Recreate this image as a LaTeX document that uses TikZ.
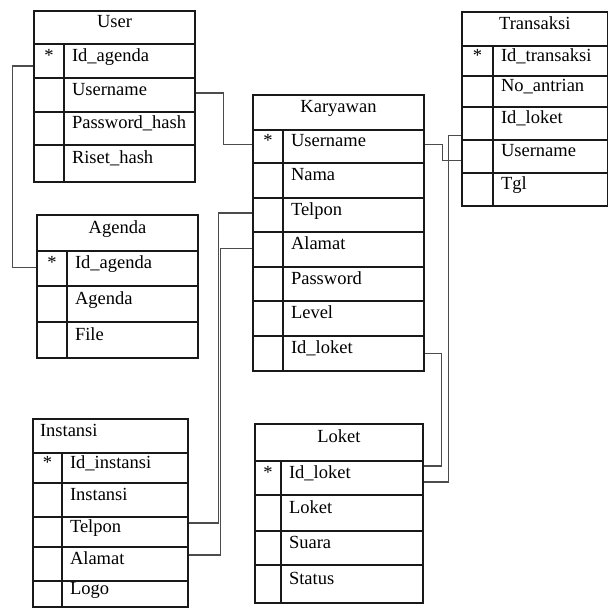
\documentclass[tikz,border=0pt]{standalone}
\usepackage{fontspec}
\setmainfont{Liberation Serif}
\begin{document}
\begin{tikzpicture}[x=1pt,y=-1pt,
  cell/.style={draw=black!90, line width=1.3pt, inner sep=0pt, text height=6pt, text depth=6pt,
    font=\fontsize{18.5}{22}\selectfont, text=black},
  conn/.style={draw=black!70, line width=1.2pt}]
\useasboundingbox (0,0) rectangle (609,608);
% row macro: name, x1, xd, x2, ytop, ybot, key, text
\newcommand\erow[8]{%
  \pgfmathsetmacro\ekw{#3-#2}\pgfmathsetmacro\efw{#4-#3}\pgfmathsetmacro\etw{#4-#3-16}%
  \pgfmathsetmacro\erh{#6-#5}%
  \pgfmathsetmacro\ekx{(#2+#3)/2}\pgfmathsetmacro\efx{(#3+#4)/2}\pgfmathsetmacro\ery{(#5+#6)/2}%
  \node[cell, minimum width=\ekw pt, minimum height=\erh pt] (#1k) at (\ekx,\ery) {#7};
  \node[cell, minimum width=\efw pt, minimum height=\erh pt, text width=\etw pt, inner xsep=8pt, align=left] (#1) at (\efx,\ery) {#8};
}
% header macro: name, x1, x2, ytop, ybot, text
\newcommand\ehead[6]{%
  \pgfmathsetmacro\ehw{#3-#2}\pgfmathsetmacro\ehh{#5-#4}%
  \pgfmathsetmacro\ehx{(#2+#3)/2}\pgfmathsetmacro\ehy{(#4+#5)/2}%
  \node[cell, minimum width=\ehw pt, minimum height=\ehh pt] (#1) at (\ehx,\ehy) {#6};
}

% User
\ehead{user}{34}{195}{11}{44}{User}
\erow{userA}{34}{64}{195}{44}{78}{*}{Id\_agenda}
\erow{userB}{34}{64}{195}{78}{112}{}{Username}
\erow{userC}{34}{64}{195}{112}{145}{}{Password\_hash}
\erow{userD}{34}{64}{195}{145}{182}{}{Riset\_hash}

% Agenda
\ehead{agenda}{37}{198}{215}{251}{Agenda}
\erow{agendaA}{37}{67}{198}{251}{286}{*}{Id\_agenda}
\erow{agendaB}{37}{67}{198}{286}{322}{}{Agenda}
\erow{agendaC}{37}{67}{198}{322}{358}{}{File}

% Karyawan
\ehead{kary}{253}{424}{95}{130}{Karyawan}
\erow{karyA}{253}{283}{424}{130}{163}{*}{Username}
\erow{karyB}{253}{283}{424}{163}{198}{}{Nama}
\erow{karyC}{253}{283}{424}{198}{232}{}{Telpon}
\erow{karyD}{253}{283}{424}{232}{267}{}{Alamat}
\erow{karyE}{253}{283}{424}{267}{301}{}{Password}
\erow{karyF}{253}{283}{424}{301}{336}{}{Level}
\erow{karyG}{253}{283}{424}{336}{371}{}{Id\_loket}

% Transaksi
\ehead{trans}{462}{607.5}{12}{46}{Transaksi}
\erow{transA}{462}{493}{607.5}{46}{76}{*}{Id\_transaksi}
\erow{transB}{462}{493}{607.5}{76}{107}{}{No\_antrian}
\erow{transC}{462}{493}{607.5}{107}{140}{}{Id\_loket}
\erow{transD}{462}{493}{607.5}{140}{173}{}{Username}
\erow{transE}{462}{493}{607.5}{173}{206}{}{Tgl}

% Loket
\ehead{loket}{255}{423}{424}{461}{Loket}
\erow{loketA}{255}{281}{423}{461}{495}{*}{Id\_loket}
\erow{loketB}{255}{281}{423}{495}{531}{}{Loket}
\erow{loketC}{255}{281}{423}{531}{565}{}{Suara}
\erow{loketD}{255}{281}{423}{565}{603}{}{Status}

% Instansi
\node[cell, minimum width=155pt, minimum height=34pt, text width=141pt, inner xsep=7pt, align=left] (inst) at (110.5,436) {Instansi};
\erow{instA}{33}{62}{188}{453}{483}{*}{Id\_instansi}
\erow{instB}{33}{62}{188}{483}{517}{}{Instansi}
\erow{instC}{33}{62}{188}{517}{547}{}{Telpon}
\erow{instD}{33}{62}{188}{547}{581}{}{Alamat}
\erow{instE}{33}{62}{188}{581}{607}{}{Logo}

% Connectors
\draw[conn] ([yshift=-5pt]userAk.west) -- ++(-21,0) |- ([yshift=1pt]agendaAk.west);
\draw[conn] ([yshift=2pt]userB.east) -- ++(28,0) |- ([yshift=2pt]karyAk.west);
\draw[conn] ([yshift=2pt]karyCk.west) -- ++(-33.5,0) |- ([yshift=9pt]instC.east);
\draw[conn] ([yshift=1pt]karyDk.west) -- ++(-31.5,0) |- ([yshift=9pt]instD.east);
\draw[conn] ([yshift=2pt]karyA.east) -- ++(18,0) |- ([yshift=-4pt]transDk.west);
\draw[conn] (karyG.east) -- ++(17,0) |- ([yshift=12pt]loketA.east);
\draw[conn] ([yshift=-12pt]transCk.west) -- ++(-13,0) |- ([yshift=-4pt]loketA.east);
\end{tikzpicture}
\end{document}
